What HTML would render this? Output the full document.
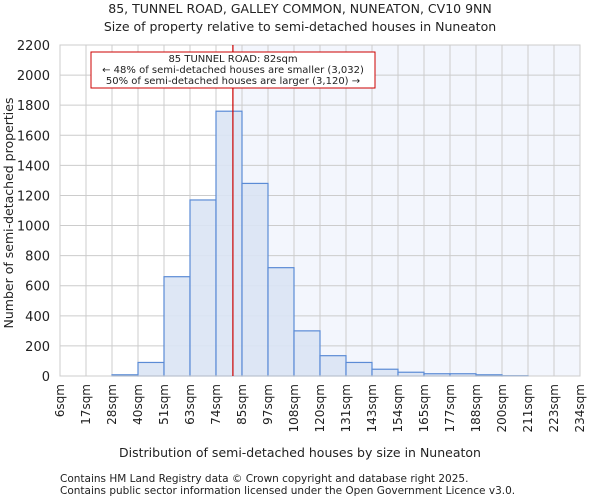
<!DOCTYPE html>
<html><head><meta charset="utf-8"><style>
body{margin:0;background:#fff;font-family:"DejaVu Sans","Liberation Sans",sans-serif;}
svg text{font-family:"DejaVu Sans","Liberation Sans",sans-serif;fill:#222;}
</style></head><body>
<svg id="c" width="600" height="500" viewBox="0 0 600 500">
<text x="300" y="13" font-size="12.5" text-anchor="middle">85, TUNNEL ROAD, GALLEY COMMON, NUNEATON, CV10 9NN</text>
<text x="300" y="31" font-size="12.5" text-anchor="middle">Size of property relative to semi-detached houses in Nuneaton</text>
<g id="plot"></g>
<text x="300" y="457" font-size="12.5" text-anchor="middle">Distribution of semi-detached houses by size in Nuneaton</text>
<text transform="translate(13,213) rotate(-90)" font-size="12.5" text-anchor="middle">Number of semi-detached properties</text>
<text x="60" y="482" font-size="10.5">Contains HM Land Registry data © Crown copyright and database right 2025.</text>
<text x="60" y="494" font-size="10.5">Contains public sector information licensed under the Open Government Licence v3.0.</text>
</svg>
<script>
const tickLabels=["6sqm","17sqm","28sqm","40sqm","51sqm","63sqm","74sqm","85sqm","97sqm","108sqm","120sqm","131sqm","143sqm","154sqm","165sqm","177sqm","188sqm","200sqm","211sqm","223sqm","234sqm"];
const counts=[0,0,8,90,660,1170,1760,1280,720,300,135,90,45,25,15,15,8,2,0,0];
const yTicks=[0,200,400,600,800,1000,1200,1400,1600,1800,2000,2200];
const markerIndex=6.65;
const NS="http://www.w3.org/2000/svg";
const L=60,R=580,T=45,B=376,yMax=2200;
const bw=(R-L)/counts.length;
const x=i=>L+i*bw, y=v=>B-(v/yMax)*(B-T);
const g=document.getElementById('plot');
function mk(t,a){const e=document.createElementNS(NS,t);for(const k in a)e.setAttribute(k,a[k]);g.appendChild(e);return e;}
let e=mk('rect',{x:x(markerIndex),y:T,width:R-x(markerIndex),height:B-T,fill:'#f3f6fd'});


yTicks.forEach(v=>{let l=mk('line',{x1:L,x2:R,y1:y(v),y2:y(v),stroke:'#ccc','stroke-width':1});


let t=mk('text',{x:L-10,y:y(v)+5,'font-size':13,'text-anchor':'end'});t.textContent=v;

});
tickLabels.forEach((s,i)=>{let l=mk('line',{x1:x(i),x2:x(i),y1:T,y2:B,stroke:'#ccc','stroke-width':1});


let t=mk('text',{transform:`translate(${x(i)+4},${B+8}) rotate(-90)`,'font-size':12,'text-anchor':'end'});t.textContent=s;

});
counts.forEach((v,i)=>{if(v<=0)return;let r=mk('rect',{x:x(i),y:y(v),width:bw,height:B-y(v),fill:'#dae4f4','fill-opacity':0.9,stroke:'#5b8bd5','stroke-width':1.2});

});
let ax=mk('rect',{x:L,y:T,width:R-L,height:B-T,fill:'none',stroke:'#ccc','stroke-width':1});


let ml=mk('line',{x1:x(markerIndex),x2:x(markerIndex),y1:T,y2:B,stroke:'#cc0000','stroke-width':1.2});


let bx=mk('rect',{x:91,y:52,width:284,height:36,fill:'#fff',stroke:'#cc0000','stroke-width':1});


["85 TUNNEL ROAD: 82sqm","← 48% of semi-detached houses are smaller (3,032)","50% of semi-detached houses are larger (3,120) →"].forEach((s,i)=>{
let t=mk('text',{x:233,y:62+i*11,'font-size':10,'text-anchor':'middle'});t.textContent=s;

});
</script>
</body></html>
